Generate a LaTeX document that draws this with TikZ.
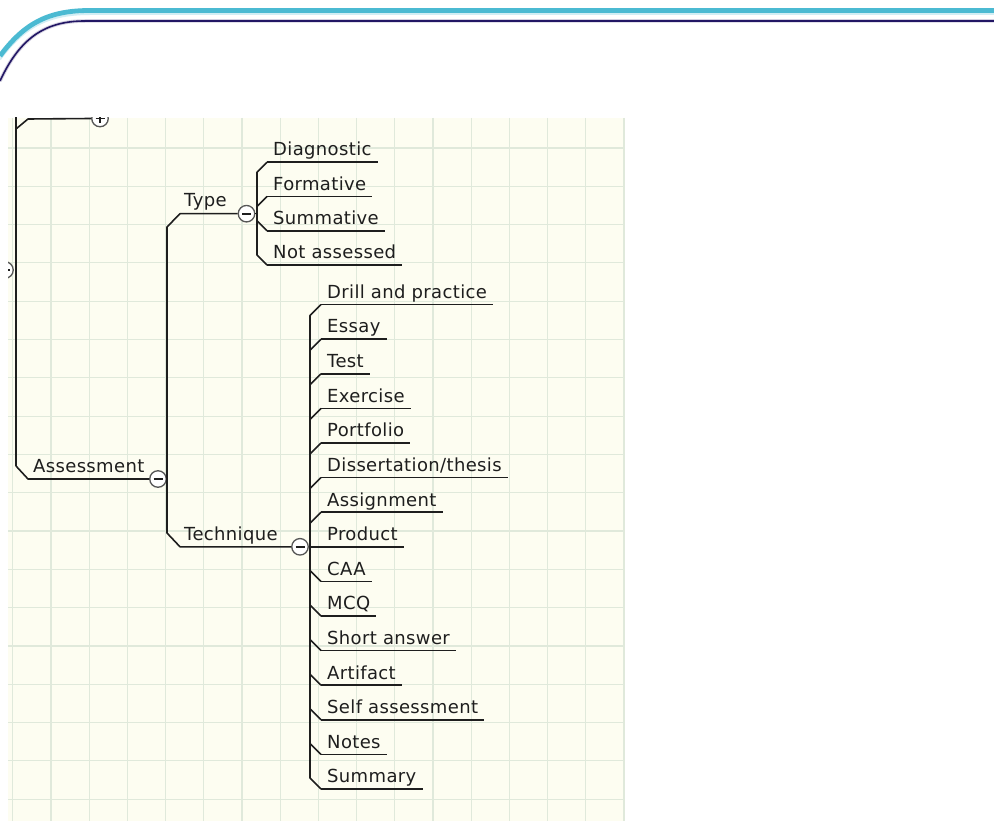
\documentclass[tikz,border=0pt]{standalone}
\usepackage{fontspec}
\setmainfont[LetterSpace=2]{DejaVu Sans}
\usetikzlibrary{positioning}
\definecolor{bandcyan}{RGB}{75,186,210}
\definecolor{bandnavy}{RGB}{34,22,100}
\definecolor{paper}{RGB}{253,253,241}
\definecolor{gridgreen}{RGB}{224,233,219}
\definecolor{inkgray}{RGB}{30,30,30}
\newcommand{\treefont}{\fontsize{18}{20}\selectfont}

\begin{document}
\begin{tikzpicture}[
    x=1pt, y=-1pt,
    stem/.style={draw=inkgray, line width=1.6pt, line join=round},
    topic/.style={anchor=base west, inner sep=0pt, font=\treefont, text=inkgray},
    leaf/.style={anchor=south west, inner xsep=6pt, inner ysep=6pt, text height=13pt,
                 text depth=0pt, font=\treefont, text=inkgray},
    toggle/.style={circle, draw=inkgray!75, fill=white, line width=1.3pt,
                   minimum size=16.5pt, inner sep=0pt},
    minus/.style={toggle, path picture={\draw[line width=2pt, inkgray]
                  ([xshift=-4.5pt]path picture bounding box.center) --
                  ([xshift=4.5pt]path picture bounding box.center);}},
    plus/.style={toggle, path picture={\draw[line width=1.8pt, inkgray]
                  ([xshift=-4.5pt]path picture bounding box.center) --
                  ([xshift=4.5pt]path picture bounding box.center)
                  ([yshift=-4.5pt]path picture bounding box.center) --
                  ([yshift=4.5pt]path picture bounding box.center);}},
]
    \useasboundingbox[fill=white] (0,0) rectangle (994,821);

    % Header band
    \draw[bandcyan!25, line width=2pt, yshift=-3.5pt] (0,56) .. controls (25,22) and (50,10.5) .. (90,10.5) -- (994,10.5);
    \draw[bandcyan, line width=4.8pt] (0,56) .. controls (25,22) and (50,10.5) .. (90,10.5) -- (994,10.5);
    \draw[bandnavy!20, line width=3.5pt] (0,81) .. controls (20,38) and (45,21) .. (85,21) -- (994,21);
    \draw[bandnavy, line width=1.6pt] (0,81) .. controls (20,38) and (45,21) .. (85,21) -- (994,21);

    % Squared paper
    \fill[paper] (8,118) rectangle (625,821);
    \foreach \i in {0,...,16}
        \draw[gridgreen, line width=1.2pt] ({12.8+38.2*\i},118) -- ({12.8+38.2*\i},821);
    \foreach \j in {0,...,17}
        \draw[gridgreen, line width=1.2pt] (8,{148+38.3*\j}) -- (625,{148+38.3*\j});

    \begin{scope}
    \clip (8,118) rectangle (625,821);

    % Parent branch (cut off)
    \node[minus] (rootcirc) at (5,270) {};
    \node[plus] (upcirc) at (100,118.5) {};
    \draw[stem] (16,100) -- (16,466);
    \draw[stem] (16,129) -- (28,119) -- (upcirc.west);

    % Assessment
    \node[minus] (asscirc) at (158,479) {};
    \node[topic] (assess) at (33,472) {Assessment};
    \draw[stem] (16,466) -- (28,479) -- (asscirc.west);

    % Type and Technique
    \node[minus] (typecirc) at (246.5,213.7) {};
    \node[minus] (techcirc) at (300,546.8) {};
    \node[topic] (type) at (184,207) {Type};
    \node[topic] (tech) at (184,540) {Technique};
    \draw[stem] (typecirc.west) -- (180,213.7) -- (167,227) -- (167,533) -- (180,546.8) -- (techcirc.west);

    % Kinds of assessment
    \node[leaf] (diag)  at (267,162.2) {Diagnostic};
    \node[leaf] (form)  at (267,196.5) {Formative};
    \node[leaf] (summ)  at (267,230.8) {Summative};
    \node[leaf] (notas) at (267,265.1) {Not assessed};
    \draw[stem] (typecirc.east) -- (257,213.7);
    \draw[stem] (diag.south west) -- ++(-10,10) -- (257,255.1) -- (notas.south west);
    \draw[stem] (form.south west) -- ++(-10,10);
    \draw[stem] (summ.south west) -- ++(-10,-10);

    % Techniques
    \node[leaf] (drill)   at (321,304.6) {Drill and practice};
    \node[leaf] (essay)   at (321,339.2) {Essay};
    \node[leaf] (test)    at (321,373.8) {Test};
    \node[leaf] (exer)    at (321,408.4) {Exercise};
    \node[leaf] (port)    at (321,443.0) {Portfolio};
    \node[leaf] (diss)    at (321,477.6) {Dissertation/thesis};
    \node[leaf] (assign)  at (321,512.2) {Assignment};
    \node[leaf] (product) at (321,546.8) {Product};
    \node[leaf] (caa)     at (321,581.4) {CAA};
    \node[leaf] (mcq)     at (321,616.0) {MCQ};
    \node[leaf] (short)   at (321,650.6) {Short answer};
    \node[leaf] (artif)   at (321,685.2) {Artifact};
    \node[leaf] (self)    at (321,719.8) {Self assessment};
    \node[leaf] (notes)   at (321,754.4) {Notes};
    \node[leaf] (summary) at (321,789.0) {Summary};
    \draw[stem] (techcirc.east) -- (product.south west);
    \draw[stem] (drill.south west) -- ++(-11,11) -- (310,778) -- (summary.south west);
    \foreach \n in {essay,test,exer,port,diss,assign}
        \draw[stem] (\n.south west) -- ++(-11,11);
    \foreach \n in {caa,mcq,short,artif,self,notes}
        \draw[stem] (\n.south west) -- ++(-11,-11);

    % Underlines
    \foreach \n in {diag,form,summ,notas,drill,essay,test,exer,port,diss,assign,product,caa,mcq,short,artif,self,notes,summary}
        \draw[stem] (\n.south west) -- (\n.south east);
    \end{scope}
\end{tikzpicture}
\end{document}
